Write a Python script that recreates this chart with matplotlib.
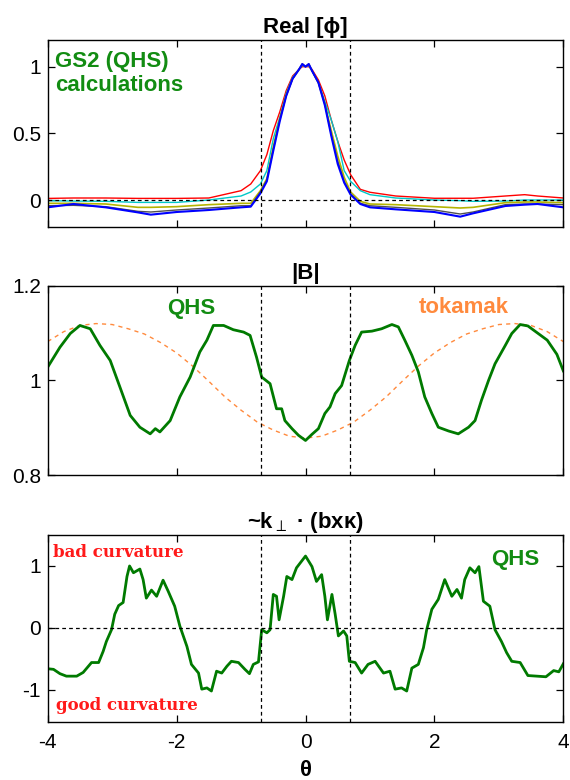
import matplotlib
matplotlib.use("Agg")
import matplotlib.pyplot as plt

plt.rcParams.update({
    "font.family": ["Liberation Sans", "DejaVu Sans"],
    "font.size": 15,
    "axes.linewidth": 1.0,
    "xtick.direction": "in", "ytick.direction": "in",
    "xtick.top": True, "ytick.right": True,
    "xtick.major.size": 5, "ytick.major.size": 5,
    "xtick.major.pad": 8, "ytick.major.pad": 5,
    "mathtext.fontset": "dejavusans",
})

# ---- (a) Real[phi], five GS2 runs
PHI_THETA = [-4.0, -3.6, -3.1, -2.6, -2.4, -2.0, -1.5, -1.0, -0.85, -0.7, -0.6, -0.5, -0.4,
             -0.3, -0.2, -0.1, -0.05, 0.0, 0.05, 0.1, 0.2, 0.3, 0.4, 0.5, 0.6, 0.7, 0.85,
             1.0, 1.4, 2.0, 2.4, 2.6, 3.1, 3.4, 3.6, 4.0]
PHI_RED = [0.012, 0.015, 0.015, 0.012, 0.012, 0.012, 0.015, 0.07, 0.12, 0.22, 0.34, 0.52, 0.66,
           0.82, 0.93, 0.98, 1.0, 1.0, 1.0, 0.98, 0.9, 0.78, 0.6, 0.44, 0.3, 0.19, 0.08,
           0.058, 0.03, 0.013, 0.013, 0.013, 0.03, 0.04, 0.03, 0.015]
PHI_CYAN = [-0.005, -0.008, -0.01, -0.018, -0.018, -0.018, 0.0, 0.03, 0.06, 0.12, 0.22, 0.46, 0.62,
            0.8, 0.92, 0.98, 1.01, 1.0, 1.01, 0.97, 0.88, 0.74, 0.6, 0.44, 0.22, 0.14, 0.07,
            0.04, 0.015, 0.0, -0.005, -0.01, -0.008, 0.0, 0.0, 0.0]
PHI_YELLOW = [-0.025, -0.025, -0.03, -0.055, -0.055, -0.05, -0.035, -0.025, -0.025, 0.07, 0.16, 0.40, 0.61,
              0.79, 0.91, 0.98, 1.02, 1.0, 1.02, 0.97, 0.88, 0.72, 0.52, 0.33, 0.17, 0.06, -0.01,
              -0.03, -0.035, -0.05, -0.06, -0.055, -0.02, -0.015, -0.015, -0.02]
PHI_GRAY = [-0.043, -0.04, -0.05, -0.085, -0.09, -0.075, -0.06, -0.043, -0.043, 0.06, 0.15, 0.38, 0.6,
            0.78, 0.91, 0.98, 1.02, 1.0, 1.02, 0.97, 0.88, 0.72, 0.49, 0.29, 0.14, 0.045, -0.025,
            -0.043, -0.055, -0.075, -0.105, -0.09, -0.035, -0.03, -0.03, -0.035]
PHI_BLUE = [-0.055, -0.03, -0.055, -0.093, -0.11, -0.09, -0.075, -0.055, -0.05, 0.05, 0.14, 0.37, 0.59,
            0.78, 0.91, 0.98, 1.02, 1.0, 1.02, 0.97, 0.88, 0.71, 0.48, 0.27, 0.13, 0.04, -0.03,
            -0.055, -0.07, -0.09, -0.125, -0.1, -0.045, -0.035, -0.03, -0.055]

# ---- (b) |B|
B_QHS_THETA = [-4.0, -3.81, -3.65, -3.50, -3.34, -3.19, -3.03, -2.88, -2.72, -2.57, -2.41, -2.33,
               -2.26, -2.10, -1.95, -1.79, -1.64, -1.53, -1.43, -1.27, -1.12, -0.96, -0.86, -0.76,
               -0.68, -0.55, -0.45, -0.37, -0.32, -0.21, -0.11, 0.0, 0.10, 0.20, 0.30, 0.38, 0.46,
               0.56, 0.68, 0.77, 0.87, 1.03, 1.18, 1.34, 1.44, 1.54, 1.65, 1.75, 1.85, 1.96, 2.06,
               2.22, 2.37, 2.53, 2.63, 2.73, 2.84, 2.94, 3.10, 3.20, 3.33, 3.45, 3.60, 3.75, 3.90, 4.0]
B_QHS = [1.028, 1.070, 1.099, 1.116, 1.109, 1.074, 1.042, 0.986, 0.926, 0.901, 0.887, 0.898,
         0.891, 0.915, 0.965, 1.007, 1.060, 1.085, 1.116, 1.116, 1.107, 1.102, 1.095, 1.049,
         1.007, 0.993, 0.940, 0.940, 0.915, 0.898, 0.884, 0.873, 0.886, 0.898, 0.930, 0.944, 0.972,
         0.989, 1.042, 1.074, 1.102, 1.104, 1.109, 1.118, 1.113, 1.085, 1.053, 1.018, 0.965, 0.930, 0.901,
         0.893, 0.887, 0.901, 0.915, 0.958, 1.0, 1.035, 1.074, 1.099, 1.118, 1.115, 1.100, 1.085, 1.055, 1.02]
B_TOK_THETA = [-4.0, -3.75, -3.5, -3.25, -3.0, -2.75, -2.5, -2.25, -2.0, -1.75, -1.5, -1.25, -1.0,
               -0.75, -0.5, -0.25, 0.0, 0.25, 0.5, 0.75, 1.0, 1.25, 1.5, 1.75, 2.0, 2.25, 2.5,
               2.75, 3.0, 3.25, 3.5, 3.75, 4.0]
B_TOK = [1.082, 1.103, 1.116, 1.120, 1.118, 1.109, 1.098, 1.080, 1.058, 1.030, 0.998, 0.965, 0.937,
         0.912, 0.895, 0.882, 0.878, 0.882, 0.895, 0.912, 0.937, 0.965, 0.998, 1.030, 1.058, 1.080, 1.098,
         1.109, 1.118, 1.120, 1.116, 1.103, 1.082]

# ---- (c) curvature drive
K_THETA = [-4.0, -3.91, -3.81, -3.71, -3.55, -3.45, -3.32, -3.21, -3.14, -3.09, -3.01, -2.96, -2.90,
           -2.83, -2.77, -2.73, -2.67, -2.57, -2.52, -2.47, -2.39, -2.31, -2.21, -2.13, -2.03, -1.95,
           -1.84, -1.77, -1.66, -1.61, -1.53, -1.46, -1.38, -1.30, -1.22, -1.15, -1.04, -0.94, -0.87,
           -0.81, -0.73, -0.68, -0.60, -0.55, -0.50, -0.45, -0.41, -0.34, -0.29, -0.21, -0.14, 0.0,
           0.10, 0.17, 0.25, 0.30, 0.34, 0.41, 0.46, 0.51, 0.59, 0.64, 0.68, 0.77, 0.87, 0.97, 1.08,
           1.21, 1.31, 1.39, 1.49, 1.57, 1.65, 1.75, 1.83, 1.88, 1.96, 2.06, 2.16, 2.27, 2.35, 2.42,
           2.47, 2.55, 2.63, 2.69, 2.76, 2.86, 2.94, 3.04, 3.12, 3.20, 3.33, 3.45, 3.73, 3.85, 3.93, 4.0]
K_QHS = [-0.66, -0.67, -0.74, -0.78, -0.78, -0.72, -0.56, -0.56, -0.38, -0.22, -0.03, 0.22, 0.36,
         0.41, 0.83, 1.0, 0.89, 0.95, 0.78, 0.48, 0.61, 0.51, 0.77, 0.59, 0.35, 0.03,
         -0.30, -0.59, -0.73, -0.99, -0.97, -1.02, -0.70, -0.73, -0.62, -0.54, -0.56, -0.67, -0.74,
         -0.59, -0.55, -0.03, -0.08, -0.03, 0.54, 0.51, 0.13, 0.51, 0.83, 0.78, 0.97, 1.16,
         0.99, 0.75, 0.86, 0.51, 0.13, 0.54, 0.22, -0.13, -0.05, -0.13, -0.54, -0.56, -0.73, -0.59, -0.54,
         -0.73, -0.70, -0.99, -0.97, -1.02, -0.65, -0.59, -0.32, -0.03, 0.30, 0.46, 0.78, 0.51, 0.62, 0.48,
         0.78, 0.97, 0.89, 0.99, 0.43, 0.35, -0.03, -0.22, -0.40, -0.54, -0.56, -0.77, -0.79, -0.69, -0.71, -0.58]

THETA_MARK = 0.69          # dashed vertical guides at +-theta
X_TICKS = [-4, -2, 0, 2, 4]
X_TICKLABELS = ["-4", "-2", "0", "2", "4"]
PHI_YTICKS, PHI_YLABELS = [0, 0.5, 1], ["0", "0.5", "1"]
B_YTICKS, B_YLABELS = [0.8, 1.0, 1.2], ["0.8", "1", "1.2"]
K_YTICKS, K_YLABELS = [-1, 0, 1], ["-1", "0", "1"]

GREEN_LINE = "#007a00"
GREEN_TXT = "#128c12"
ORANGE = "#ff8a3d"
DASH = dict(color="black", lw=0.9, ls=(0, (3, 2.5)))

fig = plt.figure(figsize=(5.7, 7.8), dpi=100)
L, W = 0.0837, 0.9046
axA = fig.add_axes([L, 0.7094, W, 0.2393])
axB = fig.add_axes([L, 0.3910, W, 0.2427])
axC = fig.add_axes([L, 0.0744, W, 0.2397])

# (a)
for ys, c, lw in [(PHI_RED, "#ff0000", 1.0), (PHI_CYAN, "#00c8c8", 1.0), (PHI_YELLOW, "#b4b400", 1.2),
                  (PHI_GRAY, "#505050", 1.0), (PHI_BLUE, "#0000ff", 1.5)]:
    axA.plot(PHI_THETA, ys, color=c, lw=lw)
axA.axhline(0, **DASH)
axA.set_ylim(-0.2, 1.2)
axA.set_yticks(PHI_YTICKS)
axA.set_yticklabels(PHI_YLABELS)
axA.set_title("Real [ϕ]", fontsize=16, fontweight="bold", pad=5)
axA.text(-3.88, 1.12, "GS2 (QHS)\ncalculations", color=GREEN_TXT, fontsize=16, fontweight="bold",
         va="top", ha="left", linespacing=1.2)

# (b)
axB.plot(B_TOK_THETA, B_TOK, color=ORANGE, lw=1.0, ls=(0, (3, 3)))
axB.plot(B_QHS_THETA, B_QHS, color=GREEN_LINE, lw=2.0)
axB.set_ylim(0.8, 1.2)
axB.set_yticks(B_YTICKS)
axB.set_yticklabels(B_YLABELS)
axB.set_title("|B|", fontsize=16, fontweight="bold", pad=5)
axB.text(-1.78, 1.152, "QHS", color=GREEN_TXT, fontsize=16, fontweight="bold", ha="center", va="center")
axB.text(2.46, 1.154, "tokamak", color=ORANGE, fontsize=16, fontweight="bold", ha="center", va="center")

# (c)
axC.plot(K_THETA, K_QHS, color=GREEN_LINE, lw=2.0)
axC.axhline(0, **DASH)
axC.set_ylim(-1.52, 1.5)
axC.set_yticks(K_YTICKS)
axC.set_yticklabels(K_YLABELS)
axC.set_title(r"~k$_{\perp}$ · (bxκ)", fontsize=16, fontweight="bold", pad=5)
axC.text(-3.92, 1.14, "bad curvature", color="#ff1a1a", fontsize=12, fontweight="bold",
         family="DejaVu Serif", ha="left", va="baseline")
axC.text(-3.87, -1.32, "good curvature", color="#ff1a1a", fontsize=12, fontweight="bold",
         family="DejaVu Serif", ha="left", va="baseline")
axC.text(3.25, 1.11, "QHS", color=GREEN_TXT, fontsize=16, fontweight="bold", ha="center", va="center")
axC.set_xlabel("θ", fontsize=16, fontweight="bold", labelpad=6)

for ax in (axA, axB, axC):
    ax.set_xlim(-4, 4)
    ax.set_xticks(X_TICKS)
    ax.axvline(-THETA_MARK, **DASH)
    ax.axvline(THETA_MARK, **DASH)
    ax.tick_params(labelsize=15, width=0.9)
for ax in (axA, axB):
    ax.set_xticklabels([])
axC.set_xticklabels(X_TICKLABELS)

fig.savefig("out.png", dpi=100, facecolor="white")
